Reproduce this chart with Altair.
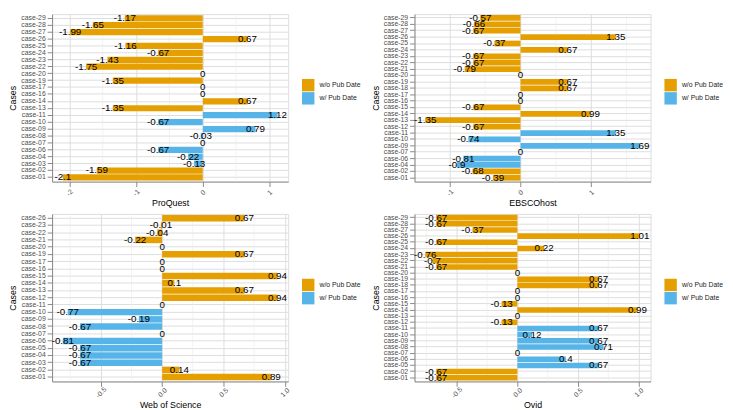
import altair as alt
import pandas as pd

# ---------------- data ----------------
groups_order = ["w/o Pub Date", "w/ Pub Date"]
colors = ["#E69F00", "#56B4E9"]

proquest_cases = ["case-29", "case-28", "case-27", "case-26", "case-25", "case-24", "case-23", "case-22",
                  "case-20", "case-19", "case-17", "case-16", "case-14", "case-13", "case-11", "case-10",
                  "case-09", "case-08", "case-07", "case-06", "case-04", "case-03", "case-02", "case-01"]
proquest_values = [-1.17, -1.65, -1.99, 0.67, -1.16, -0.67, -1.43, -1.75,
                   0, -1.35, 0, 0, 0.67, -1.35, 1.12, -0.67,
                   0.79, -0.03, 0, -0.67, -0.22, -0.13, -1.59, -2.1]
proquest_with = ["case-11", "case-10", "case-09", "case-08", "case-07", "case-06", "case-04", "case-03"]

ebsco_cases = ["case-29", "case-28", "case-27", "case-26", "case-25", "case-24", "case-23", "case-22",
               "case-21", "case-20", "case-19", "case-18", "case-17", "case-16", "case-15", "case-14",
               "case-13", "case-12", "case-11", "case-10", "case-09", "case-07", "case-06", "case-04",
               "case-02", "case-01"]
ebsco_values = [-0.57, -0.66, -0.67, 1.35, -0.37, 0.67, -0.67, -0.67,
                -0.79, 0, 0.67, 0.67, 0, 0, -0.67, 0.99,
                -1.35, -0.67, 1.35, -0.74, 1.69, 0, -0.81, -0.9,
                -0.68, -0.39]
ebsco_with = ["case-11", "case-10", "case-09", "case-07", "case-06", "case-04"]

wos_cases = ["case-26", "case-23", "case-22", "case-21", "case-20", "case-19", "case-17", "case-16",
             "case-15", "case-14", "case-13", "case-12", "case-11", "case-10", "case-09", "case-08",
             "case-07", "case-06", "case-05", "case-04", "case-03", "case-02", "case-01"]
wos_values = [0.67, -0.01, -0.04, -0.22, 0, 0.67, 0, 0,
              0.94, 0.1, 0.67, 0.94, 0, -0.77, -0.19, -0.67,
              0, -0.81, -0.67, -0.67, -0.67, 0.14, 0.89]
wos_with = ["case-10", "case-09", "case-08", "case-07", "case-06", "case-05", "case-04", "case-03"]

ovid_cases = ["case-29", "case-28", "case-27", "case-26", "case-25", "case-24", "case-23", "case-22",
              "case-21", "case-20", "case-19", "case-18", "case-17", "case-16", "case-15", "case-14",
              "case-13", "case-12", "case-11", "case-10", "case-09", "case-08", "case-07", "case-06",
              "case-05", "case-02", "case-01"]
ovid_values = [-0.67, -0.67, -0.37, 1.01, -0.67, 0.22, -0.76, -0.7,
               -0.67, 0, 0.67, 0.67, 0, 0, -0.13, 0.99,
               0, -0.13, 0.67, 0.12, 0.67, 0.71, 0, 0.4,
               0.67, -0.67, -0.67]
ovid_with = ["case-11", "case-10", "case-09", "case-08", "case-07", "case-06", "case-05"]

FONT = "Liberation Sans"
W, H = 241, 171


def panel(title, cases, values, with_cases, ticks, minors, fmt):
    df = pd.DataFrame({
        "case": cases,
        "value": values,
        "group": [groups_order[1] if c in with_cases else groups_order[0] for c in cases],
        "label": [f"{v:g}" for v in values],
    })
    lo, hi = min(values), max(values)
    pad = 0.05 * (hi - lo)
    xscale = alt.Scale(domain=[lo - pad, hi + pad], nice=False, zero=False)
    xaxis = alt.Axis(
        title=title, values=ticks,
        labelExpr="replace(format(datum.value, '%s'), '\u2212', '-')" % fmt,
        labelAngle=315, labelAlign="center", labelBaseline="middle",
        labelPadding=6, labelFontSize=7, labelColor="#4D4D4D",
        titleFontSize=9, titleColor="#000000", titleFontWeight="normal", titlePadding=2,
        grid=True,
    )
    xenc = alt.X("value:Q", scale=xscale, axis=xaxis)
    yenc = alt.Y(
        "case:N", sort=cases,
        scale=alt.Scale(paddingInner=0.1, paddingOuter=0.15),
        axis=alt.Axis(title="Cases", labelFontSize=7, labelColor="#4D4D4D", labelPadding=2,
                      titleFontSize=9, titleColor="#000000", titleFontWeight="normal",
                      titlePadding=3, grid=True, bandPosition=0.5),
    )
    rules = alt.Chart(pd.DataFrame({"value": minors})).mark_rule(
        color="#EBEBEB", strokeWidth=0.6).encode(x=xenc)
    bars = alt.Chart(df).mark_bar().encode(
        x=xenc, x2=alt.datum(0), y=yenc,
        color=alt.Color("group:N", scale=alt.Scale(domain=groups_order, range=colors),
                        legend=alt.Legend(title=None, orient="none", legendX=W + 14, legendY=66,
                                          symbolType="square", symbolSize=160, symbolStrokeWidth=0,
                                          symbolOpacity=1, labelFontSize=7, labelColor="#222222",
                                          labelFont=FONT, labelOffset=5, rowPadding=0.5)),
    )
    text = alt.Chart(df).mark_text(fontSize=10, color="#000000", font=FONT,
                                   align="center", baseline="middle").encode(
        x=xenc, y=yenc, text="label:N")
    return alt.layer(rules, bars, text).properties(width=W, height=H)


p1 = panel("ProQuest", proquest_cases, proquest_values, proquest_with, [-2, -1, 0, 1], [-1.5, -0.5, 0.5], "d")
p2 = panel("EBSCOhost", ebsco_cases, ebsco_values, ebsco_with, [-1, 0, 1], [-0.5, 0.5, 1.5], "d")
p3 = panel("Web of Science", wos_cases, wos_values, wos_with, [-0.5, 0, 0.5, 1.0], [-0.75, -0.25, 0.25, 0.75], ".1f")
p4 = panel("Ovid", ovid_cases, ovid_values, ovid_with, [-0.5, 0, 0.5, 1.0], [-0.75, -0.25, 0.25, 0.75], ".1f")

chart = alt.concat(
    p1, p2, p3, p4, columns=2, spacing={"row": 4, "column": 8},
    padding={"left": 0, "top": 0, "right": 0, "bottom": 0},
).resolve_scale(color="independent").resolve_legend(color="independent").configure_axis(
    labelFont=FONT, titleFont=FONT, gridColor="#EBEBEB", gridWidth=1, domain=False, ticks=False,
).configure_view(strokeWidth=0).configure(background="white")

chart.save("out.html", embed_options={"renderer": "svg", "actions": False})
